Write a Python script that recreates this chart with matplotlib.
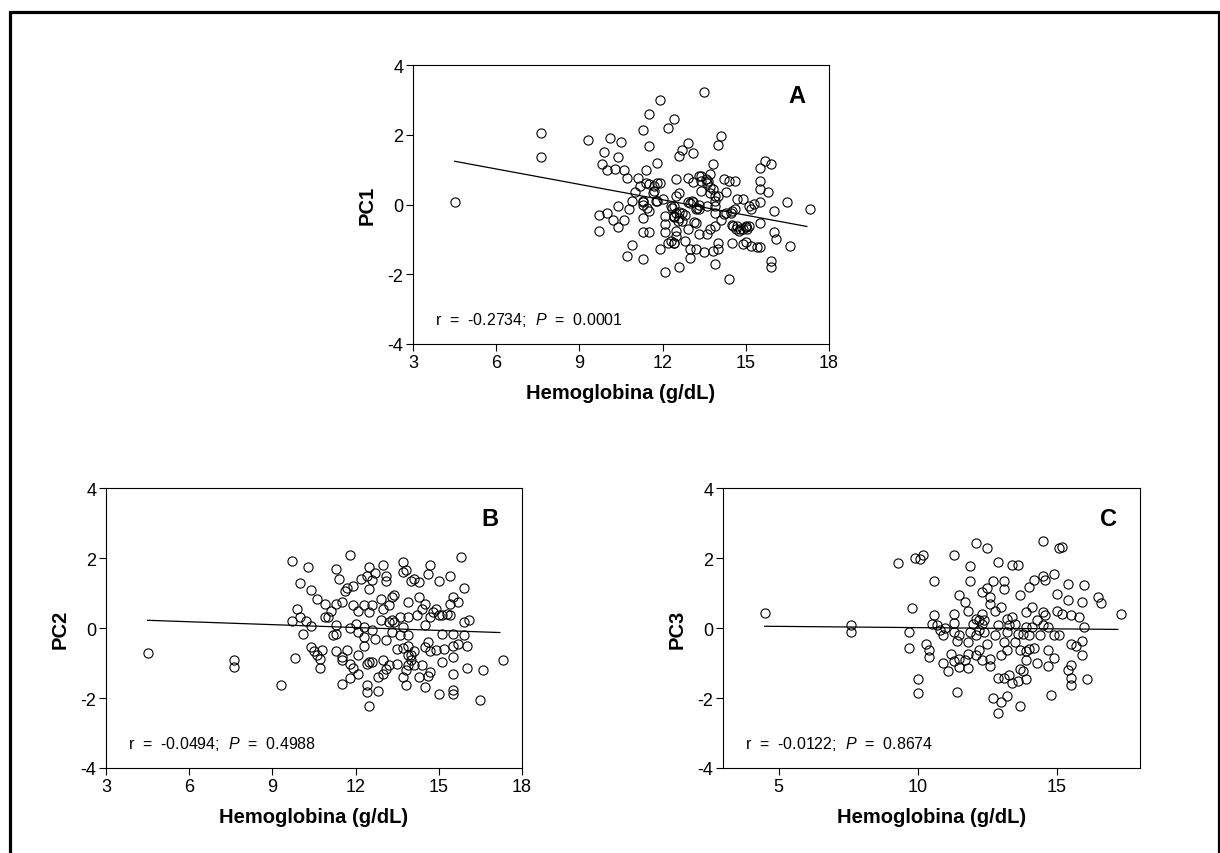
import matplotlib
matplotlib.use("Agg")
import matplotlib.pyplot as plt
import matplotlib.patches as mpatches
import numpy as np

plt.rcParams['font.family'] = ['Liberation Sans', 'DejaVu Sans']
plt.rcParams['mathtext.fontset'] = 'custom'
plt.rcParams['mathtext.rm'] = 'Liberation Sans'
plt.rcParams['mathtext.it'] = 'Liberation Sans:italic'
plt.rcParams['axes.unicode_minus'] = False

# panel A: hemoglobina vs PC1
hb_a = [4.5, 7.6, 7.6, 9.3, 9.7, 9.7, 9.8, 9.9, 10.0, 10.1, 10.0, 10.2, 10.3, 10.4, 10.4, 10.4,
        10.5, 10.6, 10.6, 10.7, 10.7, 10.8, 10.9, 10.9, 11.1, 11.0, 11.2, 11.3, 11.3, 11.3, 11.3, 11.3,
        11.4, 11.4, 11.5, 11.5, 11.5, 11.5, 11.5, 11.3, 11.7, 11.8, 11.8, 11.8, 11.9, 11.9, 11.9, 12.0,
        12.1, 12.1, 12.1, 12.1, 12.2, 12.3, 12.4, 12.4, 12.4, 12.4, 12.5, 12.5, 12.5, 12.5, 12.6, 12.6,
        12.6, 12.6, 12.7, 12.7, 12.8, 12.9, 12.9, 12.9, 12.9, 13.0, 13.0, 13.1, 13.1, 13.1, 13.2, 13.2,
        13.3, 13.3, 13.3, 13.4, 13.4, 13.5, 13.5, 13.6, 13.6, 13.6, 13.7, 13.7, 13.7, 13.8, 13.8, 13.8,
        13.9, 13.9, 13.9, 13.9, 14.0, 14.0, 14.0, 14.1, 14.1, 14.2, 14.2, 14.3, 14.3, 14.4, 14.4, 14.5,
        14.5, 14.6, 14.6, 14.7, 14.7, 14.8, 14.9, 14.9, 15.0, 15.0, 15.1, 15.1, 15.2, 15.2, 15.3, 15.4,
        15.5, 15.5, 15.5, 15.5, 15.5, 15.5, 15.7, 15.8, 15.9, 15.9, 15.9, 16.0, 16.0, 16.1, 16.5, 16.6,
        17.3, 12.3, 12.4, 12.55, 12.7, 12.8, 13.2, 13.25, 12.2, 12.4, 12.5, 13.05, 13.3, 13.4, 13.55, 13.65,
        13.7, 13.9, 13.9, 14.0, 14.55, 14.65, 14.75, 14.9, 15.05, 11.65, 11.7, 11.75, 11.45, 11.3, 12.35, 12.6,
        13.0, 13.15, 14.5, 14.45, 15.0]
pc1 = [0.06, 2.06, 1.35, 1.85, -0.3, -0.75, 1.15, 1.5, 1.0, 1.92, -0.23, -0.44, 1.03, 1.37, -0.04, -0.64,
       1.8, 1.0, -0.44, 0.76, -1.47, -0.13, 0.1, -1.15, 0.76, 0.36, 0.52, 2.14, 0.06, -0.4, -0.78, -1.57,
       1.0, 0.63, 2.6, 1.68, 0.58, -0.18, -0.78, 0.1, 0.4, 1.2, 0.63, 0.1, 3.0, 0.63, -1.28, 0.15,
       -0.32, -0.56, -0.8, -1.93, 2.18, -1.04, 2.44, -0.04, -0.37, -1.11, 0.74, 0.25, -0.23, -0.75, 1.4, 0.34,
       -1.78, -0.21, 1.57, -0.47, -1.06, 0.77, 0.06, 1.75, -0.71, -1.28, -1.52, 1.49, 0.65, 0.08, -0.52, -1.28,
       0.82, -0.13, -0.85, 0.68, 0.39, 3.23, -1.37, 0.63, -0.04, -0.85, 0.87, 0.34, -0.71, 1.17, 0.44, -1.33,
       0.25, -0.23, -0.61, -1.71, 1.71, -1.09, -1.28, 1.95, -0.44, 0.72, -0.28, 0.36, -0.23, 0.68, -2.14, -0.59,
       -1.09, 0.68, -0.13, 0.15, -0.61, -0.7, 0.15, -1.14, -0.61, -1.07, -0.04, -0.61, -1.2, -0.13, 0.01, -1.23,
       1.06, 0.68, 0.44, 0.08, -0.52, -1.23, 1.25, 0.36, 1.16, -1.61, -1.78, -0.18, -0.8, -0.99, 0.06, -1.2,
       -0.13, -0.04, -0.32, -0.47, -0.23, -0.3, -0.13, -0.1, -1.09, -1.09, -0.9, 0.1, 0.0, 0.82, 0.72, 0.68,
       0.5, 0.1, -0.04, 0.25, -0.61, -0.7, -0.75, -0.7, -0.7, 0.34, 0.52, 0.1, -0.09, 0.0, -0.1, -0.4,
       0.05, -0.5, -0.2, -0.25, -0.65]

# panel B: hemoglobina vs PC2
hb_b = [4.5, 7.6, 7.6, 9.3, 9.7, 9.7, 9.8, 9.9, 10.0, 10.0, 10.1, 10.2, 10.3, 10.4, 10.4, 10.4,
        10.5, 10.6, 10.6, 10.7, 10.7, 10.8, 10.9, 10.9, 11.0, 11.1, 11.2, 11.3, 11.3, 11.3, 11.3, 11.3,
        11.4, 11.5, 11.5, 11.5, 11.5, 11.6, 11.7, 11.7, 11.8, 11.8, 11.8, 11.8, 11.9, 11.9, 11.9, 12.0,
        12.1, 12.1, 12.1, 12.1, 12.2, 12.3, 12.3, 12.3, 12.3, 12.4, 12.4, 12.4, 12.4, 12.5, 12.5, 12.5,
        12.5, 12.5, 12.6, 12.6, 12.6, 12.6, 12.7, 12.7, 12.8, 12.8, 12.9, 12.9, 13.0, 13.0, 13.0, 13.0,
        13.1, 13.1, 13.1, 13.1, 13.2, 13.2, 13.2, 13.3, 13.3, 13.3, 13.4, 13.4, 13.5, 13.5, 13.6, 13.6,
        13.7, 13.7, 13.7, 13.7, 13.7, 13.8, 13.8, 13.8, 13.9, 13.9, 13.9, 13.9, 13.9, 13.9, 14.0, 14.0,
        14.0, 14.1, 14.1, 14.1, 14.2, 14.3, 14.3, 14.3, 14.4, 14.4, 14.5, 14.5, 14.5, 14.5, 14.6, 14.6,
        14.6, 14.7, 14.7, 14.7, 14.7, 14.8, 14.9, 14.9, 15.0, 15.0, 15.0, 15.1, 15.1, 15.1, 15.2, 15.3,
        15.4, 15.4, 15.4, 15.5, 15.5, 15.5, 15.5, 15.5, 15.5, 15.5, 15.7, 15.7, 15.8, 15.9, 15.9, 15.9,
        16.0, 16.0, 16.1, 16.5, 16.6, 17.3]
pc2 = [-0.7, -0.9, -1.1, -1.62, 1.91, 0.19, -0.86, 0.53, 1.3, 0.31, -0.16, 0.19, 1.74, 1.1, 0.06, -0.54,
       -0.67, 0.83, -0.78, -0.88, -1.13, -0.64, 0.69, 0.31, 0.31, 0.5, -0.21, 1.68, 0.69, 0.08, -0.16, -0.67,
       1.39, 0.74, -0.83, -0.92, -1.59, 1.05, -0.64, 1.14, 2.08, 0.0, -1.02, -1.43, 1.21, 0.65, -1.14, 0.12,
       0.5, -0.11, -0.76, -1.3, 1.41, 0.65, 0.03, -0.26, -0.51, 1.49, -1.62, -1.83, -1.02, 1.74, 1.12, 0.46,
       -0.97, -2.23, 1.36, 0.65, -0.05, -0.97, 1.58, -0.3, -1.4, -1.81, 0.84, 0.22, 1.81, 0.55, -0.9, -1.3,
       1.5, 1.33, -0.35, -1.16, 0.65, 0.17, -1.07, 0.89, 0.22, -0.11, 0.95, 0.17, -0.59, -1.02, 0.31, -0.21,
       1.9, 1.6, 0.03, -0.57, -1.4, 1.65, -1.21, -1.62, 0.74, 0.31, -0.21, -0.5, -0.76, -1.07, 1.33, -0.78,
       -0.92, 1.41, -0.67, -1.07, 0.36, 1.31, 0.89, -1.4, 0.55, -1.07, 0.69, 0.1, -0.54, -1.69, 1.55, -0.4,
       -1.37, 1.81, 0.31, -0.67, -1.26, 0.46, 0.55, -0.64, 1.33, 0.36, -1.88, 0.36, -0.16, -0.97, -0.6, 0.41,
       1.49, 0.69, 0.36, 0.89, -0.16, -0.5, -0.83, -1.3, -1.78, -1.88, 0.74, -0.45, 2.02, 1.14, 0.17, -0.19,
       -0.51, -1.14, 0.22, -2.07, -1.21, -0.9]

# panel C: hemoglobina vs PC3
hb_c = [4.5, 7.6, 7.6, 9.3, 9.7, 9.7, 9.8, 9.9, 10.0, 10.0, 10.1, 10.2, 10.3, 10.4, 10.4, 10.5,
        10.6, 10.6, 10.7, 10.8, 10.9, 10.9, 11.0, 11.1, 11.2, 11.3, 11.3, 11.3, 11.3, 11.3, 11.4, 11.4,
        11.5, 11.5, 11.5, 11.5, 11.7, 11.7, 11.8, 11.8, 11.8, 11.8, 11.9, 11.9, 11.9, 12.0, 12.1, 12.1,
        12.1, 12.1, 12.2, 12.2, 12.2, 12.3, 12.3, 12.3, 12.3, 12.4, 12.4, 12.5, 12.5, 12.5, 12.6, 12.6,
        12.6, 12.6, 12.7, 12.7, 12.8, 12.8, 12.9, 12.9, 12.9, 12.9, 13.0, 13.0, 13.0, 13.1, 13.1, 13.1,
        13.1, 13.2, 13.2, 13.2, 13.2, 13.3, 13.3, 13.4, 13.4, 13.4, 13.5, 13.5, 13.6, 13.6, 13.6, 13.7,
        13.7, 13.7, 13.7, 13.8, 13.8, 13.9, 13.9, 13.9, 13.9, 13.9, 14.0, 14.0, 14.0, 14.1, 14.1, 14.2,
        14.2, 14.3, 14.3, 14.4, 14.5, 14.5, 14.5, 14.5, 14.6, 14.6, 14.7, 14.7, 14.7, 14.8, 14.9, 14.9,
        14.9, 15.0, 15.0, 15.1, 15.1, 15.2, 15.2, 15.4, 15.4, 15.4, 15.5, 15.5, 15.5, 15.5, 15.5, 15.7,
        15.8, 15.9, 15.9, 15.9, 16.0, 16.0, 16.1, 16.5, 16.6, 17.3]
pc3 = [0.44, 0.1, -0.11, 1.87, -0.11, -0.56, 0.57, 2.0, -1.47, -1.86, 1.96, 2.08, -0.45, -0.64, -0.83, 0.12,
       1.33, 0.38, 0.08, -0.07, -0.21, -0.99, 0.0, -1.24, -0.73, 2.1, 0.41, 0.15, -0.11, -0.95, -0.38, -1.83,
       0.95, -0.21, -0.88, -1.1, 0.74, -0.92, 0.5, -0.4, -0.73, -1.14, 1.76, 1.33, -0.1, 0.12, 2.44, 0.25,
       -0.21, -0.78, 0.22, -0.07, -0.64, 1.03, 0.41, 0.12, -0.92, 0.22, -0.11, 2.29, 1.14, -0.45, 0.89, 0.69,
       -0.88, -1.09, 1.33, -2.0, 0.5, -0.21, 1.89, 0.1, -1.43, -2.43, 0.6, -0.76, -2.11, 1.33, 1.12, -0.4,
       -1.43, 0.26, -0.11, -0.64, -1.95, 0.08, -1.33, 1.79, 0.31, -1.56, -0.4, 0.12, 1.81, -0.16, -1.5, 0.93,
       -0.64, -1.16, -2.24, -0.16, -1.24, 0.46, 0.03, -0.67, -0.92, -1.47, 1.17, -0.21, -0.59, 0.6, 0.03, 1.36,
       -0.57, 0.22, -0.99, -0.21, 2.5, 1.5, 0.46, 0.08, 1.36, 0.36, 0.03, -0.64, -1.09, -1.92, 1.55, -0.21,
       -0.86, 0.98, 0.48, 2.29, -0.21, 2.31, 0.41, 1.27, 0.79, -1.21, 0.36, -0.45, -1.05, -1.43, -1.64, -0.5,
       0.31, 0.74, -0.38, -0.78, 1.22, 0.03, -1.45, 0.89, 0.72, 0.41]

# regression lines (value at fit_x ends)
fit_x = [4.5, 17.2]
fit_a = [1.24, -0.63]
fit_b = [0.22, -0.13]
fit_c = [0.05, -0.04]

panels = [
    dict(x=hb_a, y=pc1, fit=fit_a, ylab='PC1', letter='A', xt=[3, 6, 9, 12, 15, 18],
         stat='r  =  -0.2734;  $\\mathit{P}$  =  0.0001', pos=[413, 66, 829, 345]),
    dict(x=hb_b, y=pc2, fit=fit_b, ylab='PC2', letter='B', xt=[3, 6, 9, 12, 15, 18],
         stat='r  =  -0.0494;  $\\mathit{P}$  =  0.4988', pos=[106, 489, 522, 769]),
    dict(x=hb_c, y=pc3, fit=fit_c, ylab='PC3', letter='C', xt=[5, 10, 15],
         stat='r  =  -0.0122;  $\\mathit{P}$  =  0.8674', pos=[723, 489, 1140, 769]),
]

W, H = 1220, 854
fig = plt.figure(figsize=(W / 100, H / 100), dpi=100)

for p in panels:
    x0, y0, x1, y1 = p['pos']
    ax = fig.add_axes([x0 / W, 1 - y1 / H, (x1 - x0) / W, (y1 - y0) / H])
    ax.plot(p['x'], p['y'], 'o', mfc='none', mec='black', ms=6.6, mew=0.8)
    ax.plot(fit_x, p['fit'], color='black', lw=0.9)
    ax.set_xlim(3, 18)
    ax.set_ylim(-4, 4)
    ax.set_xticks(p['xt'])
    ax.set_yticks([-4, -2, 0, 2, 4])
    ax.tick_params(direction='out', length=5, width=0.8, labelsize=13, pad=2)
    for s in ax.spines.values():
        s.set_linewidth(0.8)
    ax.set_xlabel('Hemoglobina (g/dL)', fontsize=14.5, fontweight='bold', labelpad=9)
    ax.set_ylabel(p['ylab'], fontsize=14.5, fontweight='bold', labelpad=8)
    ax.text(0.924, 0.89, p['letter'], transform=ax.transAxes, ha='center', va='center',
            fontsize=17, fontweight='bold')
    ax.text(0.053, 0.09, p['stat'], transform=ax.transAxes, ha='left', va='center', fontsize=11.5)

# outer frame
fig.patches.append(mpatches.Rectangle((9.5 / W, -0.02), (1219 - 9.5) / W, 1.02 - 12.5 / H,
                                      transform=fig.transFigure, fill=False, lw=2.3, ec='black'))

fig.savefig('out.png', dpi=100)
